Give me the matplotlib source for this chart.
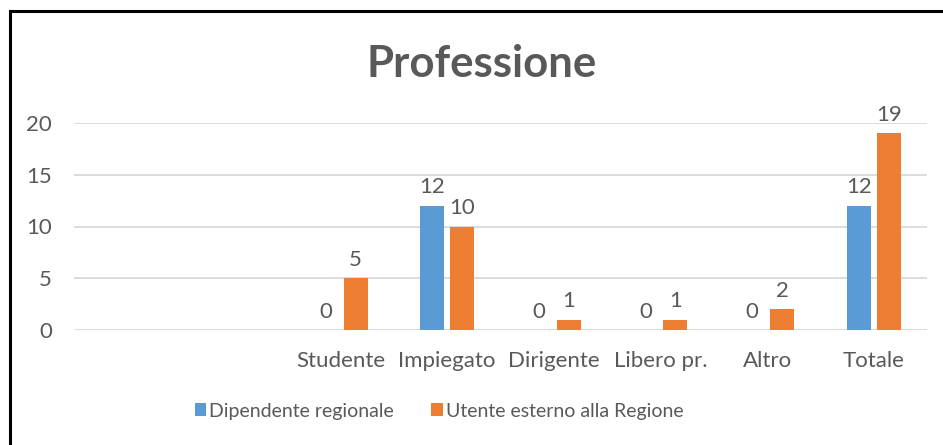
import matplotlib
matplotlib.use("Agg")
import matplotlib.pyplot as plt
import numpy as np
from matplotlib.lines import Line2D

categories = ["", "", "Studente", "Impiegato", "Dirigente", "Libero pr.", "Altro", "Totale"]
dipendente = [None, None, 0, 12, 0, 0, 0, 12]
esterno = [None, None, 5, 10, 1, 1, 2, 19]
series_names = ["Dipendente regionale", "Utente esterno alla Regione"]
title = "Professione"
yticks = [0, 5, 10, 15, 20]

BLUE = "#5B9BD5"
ORANGE = "#ED7D31"
TXT = "#595959"
GRID = "#D9D9D9"

plt.rcParams['font.family'] = ['Lato', 'DejaVu Sans']

fig = plt.figure(figsize=(9.43, 4.45), dpi=100)
ax = fig.add_axes([74/943, 1-330/445, (927-74)/943, (330-123)/445])

x = np.arange(len(categories))
w = 0.225
gap = 0.056
off = (w + gap) / 2

def clean(v):
    return [np.nan if a is None else a for a in v]

d = clean(dipendente)
e = clean(esterno)
b1 = ax.bar(x - off, d, w, color=BLUE, label=series_names[0], zorder=3)
b2 = ax.bar(x + off, e, w, color=ORANGE, label=series_names[1], zorder=3)

for bars, vals in ((b1, dipendente), (b2, esterno)):
    for rect, v in zip(bars, vals):
        if v is None:
            continue
        ax.annotate(str(v), (rect.get_x() + rect.get_width()/2, v),
                    xytext=(0, 6), textcoords="offset points",
                    ha="center", va="bottom", fontsize=16, color=TXT,
                    annotation_clip=False)

ax.set_xlim(-0.5, len(categories) - 0.5)
ax.set_ylim(0, 20)
ax.set_yticks(yticks)
ax.set_xticks(x)
ax.set_xticklabels(categories)
ax.tick_params(axis="both", length=0, labelsize=16, labelcolor=TXT)
ax.tick_params(axis="y", pad=16)
ax.tick_params(axis="x", pad=15)
ax.grid(axis="y", color=GRID, linewidth=1.3, zorder=0)
for s in ax.spines.values():
    s.set_visible(False)

fig.text(482/943, 1-64/445, title, ha="center", va="center",
         fontsize=31.5, fontweight="bold", color=TXT)

leg = fig.legend(handles=[b1, b2], loc="center", bbox_to_anchor=(439/943, 1-411/445),
                 ncol=2, frameon=False, fontsize=14, handlelength=0.6, handleheight=0.6,
                 handletextpad=0.15, columnspacing=1.9)
for t in leg.get_texts():
    t.set_color(TXT)

fig.add_artist(Line2D([10/943, 10/943], [0, 1-11/445], color="black", linewidth=2.2, transform=fig.transFigure))
fig.add_artist(Line2D([10/943, 1], [1-11/445, 1-11/445], color="black", linewidth=2.2, transform=fig.transFigure))

fig.savefig("out.png", dpi=100, facecolor="white")
